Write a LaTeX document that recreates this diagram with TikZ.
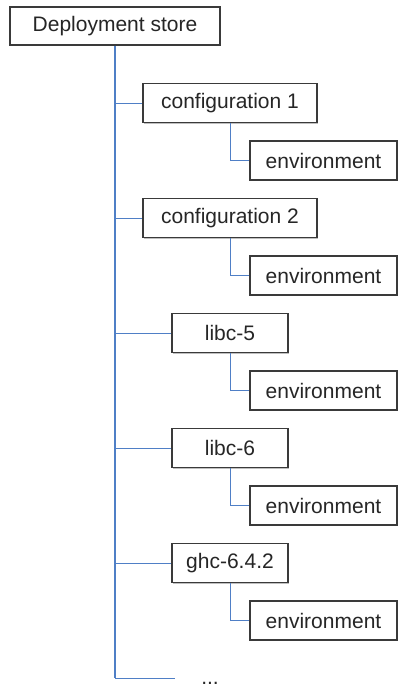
\documentclass[tikz,border=0pt]{standalone}
\usepackage{fontspec}
\setmainfont{Liberation Sans}
\usetikzlibrary{shadows}
\definecolor{trunkblue}{HTML}{4F7FC6}
\definecolor{boxline}{HTML}{3A3A3A}
\tikzset{
  item/.style={draw=boxline, line width=1.4pt, fill=white, rectangle,
    minimum height=39pt, inner sep=0pt, font=\fontsize{21}{24}\selectfont,
    text=black!85,
    drop shadow={shadow xshift=1.2pt, shadow yshift=-1.2pt, fill=black!25, opacity=1}},
  wide/.style={item, minimum width=174pt},
  narrow/.style={item, minimum width=116pt},
  envbox/.style={item, minimum width=147pt},
  trunk/.style={draw=trunkblue, line width=2.6pt},
  branch/.style={draw=trunkblue, line width=1pt},
}
\begin{document}
\begin{tikzpicture}[x=1pt, y=-1pt]
  \useasboundingbox (0,0) rectangle (401,685);

  % root of the store
  \node[item, minimum width=210pt, minimum height=38pt] (root) at (115,26) {Deployment store};

  % packages and their environments
  \node[wide]   (p1) at (230,103) {configuration 1};
  \node[envbox] (e1) at (323.5,160.5) {environment};
  \node[wide]   (p2) at (230,218) {configuration 2};
  \node[envbox] (e2) at (323.5,275.5) {environment};
  \node[narrow] (p3) at (230,333) {libc-5};
  \node[envbox] (e3) at (323.5,390.5) {environment};
  \node[narrow] (p4) at (230,448) {libc-6};
  \node[envbox] (e4) at (323.5,505.5) {environment};
  \node[narrow] (p5) at (230,563) {ghc-6.4.2};
  \node[envbox] (e5) at (323.5,620.5) {environment};

  % trailing entries
  \coordinate (tend) at (115,678);
  \coordinate (more) at (175,678);
  \node[anchor=base, inner sep=0pt, text=black!85, font=\fontsize{21}{24}\selectfont] (dots) at (210,684) {...};

  % trunk and branches
  \draw[trunk] (root.south) -- (root.south |- tend);
  \draw[branch] (tend) -- (more);
  \foreach \i in {1,...,5} {
    \draw[branch] (root.south |- p\i.west) -- (p\i.west);
    \draw[branch] (p\i.south) |- (e\i.west);
  }
\end{tikzpicture}
\end{document}
